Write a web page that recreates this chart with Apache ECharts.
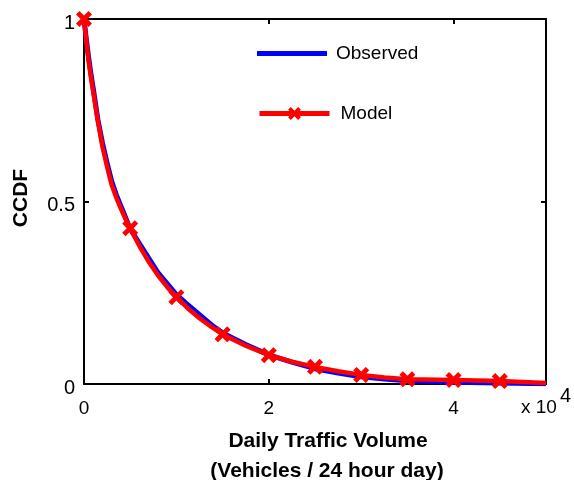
<!DOCTYPE html>
<html>
<head>
<meta charset="utf-8">
<script src="https://cdn.jsdelivr.net/npm/echarts@6/dist/echarts.min.js"></script>
<style>
  html, body { margin: 0; padding: 0; background: #fff; }
  #chart { width: 574px; height: 480px; }
</style>
</head>
<body>
<div id="chart"></div>
<script>
// Daily traffic volume (in units of 10^4 vehicles / day) vs. CCDF
var observedX = [0, 0.025, 0.05, 0.075, 0.1, 0.15, 0.2, 0.25, 0.3, 0.35, 0.4, 0.5, 0.6, 0.7, 0.8, 0.9, 1.0, 1.1, 1.25, 1.4, 1.5, 1.75, 2.0, 2.25, 2.5, 2.75, 3.0, 3.25, 3.5, 4.0, 4.5, 5.0];
var observedY = [1.0, 0.945, 0.895, 0.85, 0.81, 0.725, 0.66, 0.605, 0.555, 0.518, 0.487, 0.425, 0.385, 0.345, 0.305, 0.275, 0.245, 0.222, 0.19, 0.158, 0.14, 0.108, 0.08, 0.06, 0.042, 0.03, 0.02, 0.014, 0.009, 0.005, 0.003, 0.001];

var modelX = [0, 0.025, 0.05, 0.075, 0.1, 0.15, 0.2, 0.25, 0.3, 0.35, 0.4, 0.45, 0.5, 0.6, 0.7, 0.8, 0.9, 1.0, 1.125, 1.25, 1.375, 1.5, 1.75, 2.0, 2.25, 2.5, 2.75, 3.0, 3.25, 3.5, 4.0, 4.5, 5.0];
var modelY = [1.0, 0.94, 0.885, 0.84, 0.80, 0.72, 0.65, 0.595, 0.545, 0.51, 0.48, 0.452, 0.427, 0.378, 0.335, 0.298, 0.266, 0.238, 0.207, 0.18, 0.157, 0.136, 0.105, 0.079, 0.061, 0.047, 0.035, 0.025, 0.018, 0.013, 0.011, 0.008, 0.003];

// model points that carry an "x" marker
var modelMarkerX = [0, 0.5, 1.0, 1.5, 2.0, 2.5, 3.0, 3.5, 4.0, 4.5];

var xTicks = [0, 2, 4];
var yTicks = [0, 0.5, 1];

var crossPath = 'path://M3,0 L7,4 L11,0 L14,3 L10,7 L14,11 L11,14 L7,10 L3,14 L0,11 L4,7 L0,3 Z';

var observedData = observedX.map(function (x, i) { return [x, observedY[i]]; });
var modelData = modelX.map(function (x, i) {
  var marked = modelMarkerX.indexOf(x) >= 0;
  return { value: [x, modelY[i]], symbol: marked ? crossPath : 'none' };
});

var chart = echarts.init(document.getElementById('chart'), null, { renderer: 'canvas' });
var font = 'Liberation Sans, Arial, Helvetica, sans-serif';

var frameLine = { show: true, onZero: false, lineStyle: { color: '#000', width: 2 } };
var innerTick = { show: true, inside: true, length: 5, lineStyle: { color: '#000', width: 2 } };

chart.setOption({
  animation: false,
  backgroundColor: '#fff',
  grid: { left: 84, right: 28, top: 19, bottom: 96, containLabel: false },
  legend: [
    {
      data: [{ name: 'Observed', icon: 'rect' }],
      left: 252, top: 39,
      itemWidth: 70, itemHeight: 5,
      textStyle: { fontFamily: font, fontSize: 19, color: '#000', padding: [0, 0, 0, 4] }
    },
    {
      data: ['Model'],
      left: 252, top: 99,
      itemWidth: 70, itemHeight: 16,
      lineStyle: { width: 5, color: '#ff0000' },
      textStyle: { fontFamily: font, fontSize: 19, color: '#000', padding: [0, 0, 0, 6] }
    }
  ],
  xAxis: [
    {
      type: 'value', min: 0, max: 5, interval: 2, position: 'bottom',
      axisLine: frameLine, axisTick: innerTick, splitLine: { show: false },
      axisLabel: {
        show: true, margin: 15, fontFamily: font, fontSize: 19, color: '#000',
        showMaxLabel: false,
        formatter: function (v) { return xTicks.indexOf(v) >= 0 ? String(v) : ''; }
      }
    },
    {
      type: 'value', min: 0, max: 5, interval: 2, position: 'top',
      axisLine: frameLine, axisTick: innerTick, splitLine: { show: false },
      axisLabel: { show: false }
    }
  ],
  yAxis: [
    {
      type: 'value', min: 0, max: 1, interval: 0.5, position: 'left',
      axisLine: frameLine, axisTick: innerTick, splitLine: { show: false },
      axisLabel: {
        show: true, margin: 9, color: '#000',
        formatter: function (v) { return yTicks.indexOf(v) >= 0 ? '{v|' + v + '}' : ''; },
        rich: {
          v: { fontFamily: font, fontSize: 20, color: '#000', lineHeight: 20, padding: [8, 0, 0, 0] }
        }
      }
    },
    {
      type: 'value', min: 0, max: 1, interval: 0.5, position: 'right',
      axisLine: frameLine, axisTick: innerTick, splitLine: { show: false },
      axisLabel: { show: false }
    }
  ],
  series: [
    {
      name: 'Observed', type: 'line', data: observedData,
      xAxisIndex: 0, yAxisIndex: 0,
      showSymbol: false, symbol: 'none',
      smooth: false,
      lineStyle: { color: '#0000ff', width: 5, join: 'round' },
      itemStyle: { color: '#0000ff' },
      z: 2
    },
    {
      name: 'Model', type: 'line', data: modelData,
      xAxisIndex: 0, yAxisIndex: 0,
      symbol: crossPath, symbolSize: 16, showSymbol: true,
      smooth: false,
      lineStyle: { color: '#ff0000', width: 4.5, join: 'round' },
      itemStyle: { color: '#ff0000' },
      z: 3
    }
  ],
  graphic: [
    {
      type: 'text', left: 521, top: 398,
      style: { text: 'x 10', font: '19px ' + font, fill: '#000' }
    },
    {
      type: 'text', left: 560, top: 386,
      style: { text: '4', font: '20px ' + font, fill: '#000' }
    },
    {
      type: 'text', x: 21, y: 198, rotation: Math.PI / 2,
      style: { text: 'CCDF', font: 'bold 21px ' + font, fill: '#000', align: 'center', verticalAlign: 'middle' }
    },
    {
      type: 'text', x: 328, y: 441,
      style: { text: 'Daily Traffic Volume', font: 'bold 21px ' + font, fill: '#000', align: 'center', verticalAlign: 'middle' }
    },
    {
      type: 'text', x: 327, y: 471,
      style: { text: '(Vehicles / 24 hour day)', font: 'bold 21px ' + font, fill: '#000', align: 'center', verticalAlign: 'middle' }
    }
  ]
});
</script>
</body>
</html>
